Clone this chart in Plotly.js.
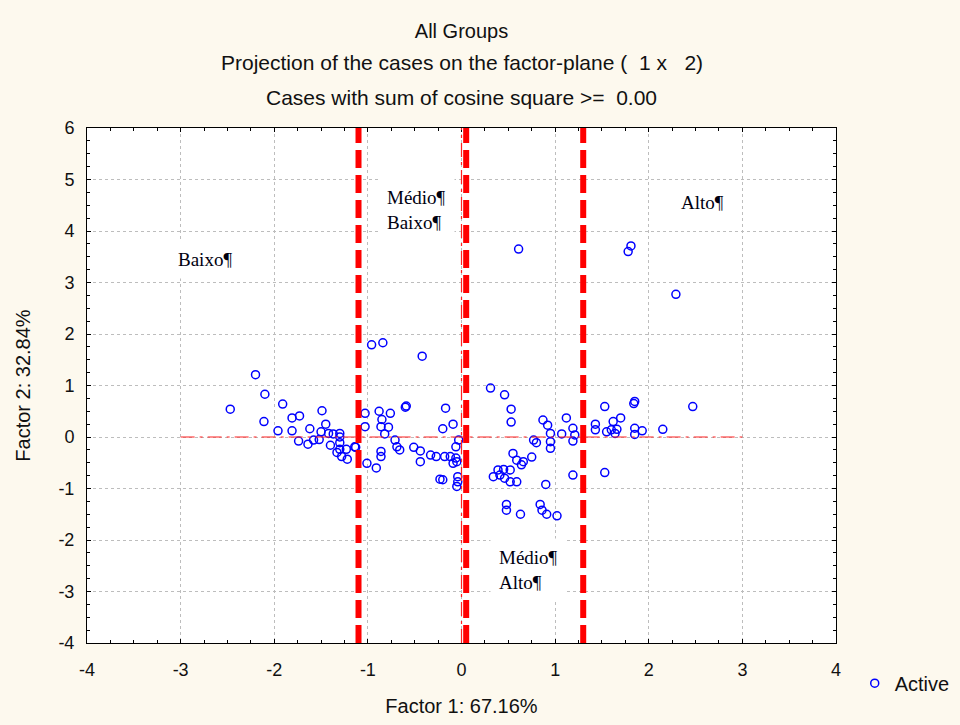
<!DOCTYPE html>
<html>
<head>
<meta charset="utf-8">
<script src="https://cdn.plot.ly/plotly-3.0.1.min.js"></script>
<style>
html,body{margin:0;padding:0;background:#fdf9ee;}
#chart{width:960px;height:725px;}
</style>
</head>
<body>
<div id="chart"></div>
<script>
// Factor coordinates of the cases (Factor 1 = x, Factor 2 = y)
const factor1 = [
  -2.20,-2.10,-2.47,-1.91,-2.11,-1.81,-1.73,-1.96,-1.81,-1.49,-1.62,-1.45,-1.50,-1.42,-1.30,-1.37,-1.74,-1.64,-1.58,-1.52,-1.40,-1.30,-1.30,-1.30,-1.33,-1.23,-1.28,-1.22,-1.13,
  -0.96,-0.84,-0.42,-1.03,-0.88,-0.76,-1.03,-0.85,-0.86,-0.78,-0.82,-0.60,-0.59,-0.17,-0.09,-0.20,-0.71,-0.69,-0.66,-1.14,-0.86,-0.86,-1.01,-0.91,-0.51,-0.44,-0.44,-0.33,-0.27,-0.18,-0.12,-0.06,-0.06,-0.03,-0.09,-0.05,-0.23,-0.20,-0.04,-0.05,-0.04,
  0.31,0.46,0.53,0.53,0.87,0.92,0.95,1.12,1.07,1.19,1.21,1.19,0.77,0.80,0.95,0.95,0.55,0.75,0.59,0.64,0.66,0.39,0.45,0.52,0.34,0.41,0.46,0.52,0.59,0.90,1.19,0.48,0.48,0.63,0.84,0.86,0.91,1.02,
  1.53,1.84,1.85,2.47,1.70,1.62,1.43,1.43,1.55,1.60,1.66,1.64,1.85,1.85,1.93,2.15,1.53,
  0.61,1.81,1.78,2.29
];
const factor2 = [
  1.21,0.83,0.54,0.64,0.30,0.37,0.41,0.12,0.12,0.51,0.16,0.25,0.10,0.07,0.07,0.06,-0.08,-0.14,-0.06,-0.05,-0.16,0.00,-0.11,-0.24,-0.30,-0.24,-0.38,-0.43,-0.20,
  1.79,1.83,1.57,0.46,0.50,0.46,0.20,0.34,0.20,0.19,0.06,0.58,0.60,0.56,0.25,0.16,-0.06,-0.19,-0.25,-0.19,-0.28,-0.38,-0.51,-0.60,-0.20,-0.27,-0.48,-0.35,-0.38,-0.38,-0.38,-0.41,-0.19,-0.06,-0.51,-0.48,-0.82,-0.83,-0.77,-0.96,-0.87,
  0.95,0.82,0.54,0.29,0.33,0.23,0.07,0.37,0.06,0.17,0.04,-0.08,-0.06,-0.11,-0.09,-0.22,-0.32,-0.39,-0.45,-0.54,-0.48,-0.64,-0.63,-0.64,-0.77,-0.74,-0.80,-0.87,-0.87,-0.92,-0.74,-1.31,-1.42,-1.50,-1.31,-1.42,-1.50,-1.53,
  0.59,0.65,0.69,0.59,0.37,0.30,0.25,0.14,0.10,0.14,0.15,0.07,0.17,0.05,0.12,0.15,-0.69,
  3.65,3.71,3.60,2.77
];
const seriesName = "Active";

// Tick labels (plain hyphen minus as in the original)
const xTickVals = [-4, -3, -2, -1, 0, 1, 2, 3, 4];
const xTickText = ["-4", "-3", "-2", "-1", "0", "1", "2", "3", "4"];
const yTickVals = [-4, -3, -2, -1, 0, 1, 2, 3, 4, 5, 6];
const yTickText = ["-4", "-3", "-2", "-1", "0", "1", "2", "3", "4", "5", "6"];

// Group boundaries (thick dashed) on Factor 1
const cutX = [-1.1, 0.05, 1.3];
// Reference axes (thin red lines)
const refHX = [-3, 3];   // horizontal line at Factor 2 = 0
const refVY = [-4, 6];   // vertical line at Factor 1 = 0

// Group labels
const labelText = ["Baixo¶", "Médio¶<br>Baixo¶", "Médio¶<br>Alto¶", "Alto¶"];
const labelX = [-2.74, -0.48, 0.72, 2.57];
const labelY = [3.44, 4.41, -2.58, 4.56];

const titleLines = ["All Groups", "Projection of the cases on the factor-plane (  1 x   2)", "Cases with sum of cosine square >=  0.00"];

const font = "Liberation Sans, Arial, sans-serif";
const txt = "#111";

const trace = {
  x: factor1, y: factor2, type: "scatter", mode: "markers", name: seriesName,
  marker: {symbol: "circle-open", size: 8, color: "#0000ff", line: {width: 1.5, color: "#0000ff"}},
  showlegend: true
};

const shapes = [];
cutX.forEach(v => shapes.push({
  type: "line", xref: "x", yref: "y", x0: v, x1: v, y0: -4, y1: 6, layer: "above",
  line: {color: "#ff0000", width: 6, dash: "18px,7px"}
}));
shapes.push({type: "line", xref: "x", yref: "y", x0: refHX[0], x1: refHX[1], y0: 0, y1: 0, layer: "above",
  line: {color: "#ff2020", width: 1.2, dash: "14px,5px,3px,5px"}});
shapes.push({type: "line", xref: "x", yref: "y", x0: 0, x1: 0, y0: refVY[0], y1: refVY[1], layer: "above",
  line: {color: "#ff2020", width: 1.2, dash: "14px,5px,3px,5px"}});

const annotations = labelText.map((t, i) => ({
  x: labelX[i], y: labelY[i], xref: "x", yref: "y", text: t, showarrow: false,
  align: "left", bgcolor: "#ffffff", borderpad: 8,
  font: {family: "Liberation Serif, Times New Roman, serif", size: 19, color: "#000010"}
}));
annotations.push({xref: "paper", yref: "paper", x: 0.5, y: 1, yshift: 66, text: titleLines[1], showarrow: false,
  font: {family: font, size: 21, color: txt}, xanchor: "center", yanchor: "middle"});
annotations.push({xref: "paper", yref: "paper", x: 0.5, y: 1, yshift: 31, text: titleLines[2], showarrow: false,
  font: {family: font, size: 21, color: txt}, xanchor: "center", yanchor: "middle"});

const axisCommon = {
  showline: true, linecolor: "#000", linewidth: 1, mirror: "ticks",
  ticks: "inside", ticklen: 4, tickcolor: "#000", tickmode: "array",
  minor: {dtick: 0.25, ticks: "inside", ticklen: 3, tickcolor: "#000", showgrid: false},
  showgrid: true, gridcolor: "#bdbdbd", griddash: "dot", gridwidth: 1,
  zeroline: false, tickfont: {family: font, size: 18, color: txt}
};

const layout = {
  width: 960, height: 725,
  paper_bgcolor: "#fdf9ee", plot_bgcolor: "#ffffff",
  margin: {l: 87, r: 124, t: 128, b: 82, autoexpand: false},
  title: {text: titleLines[0], x: 0.5, xref: "paper", xanchor: "center", y: 1, yref: "container", yanchor: "top", pad: {t: 24},
    font: {family: font, size: 20, color: txt}},
  xaxis: Object.assign({}, axisCommon, {range: [-4, 4], tickvals: xTickVals, ticktext: xTickText, ticklabelstandoff: 10,
    title: {text: "Factor 1: 67.16%", standoff: 20, font: {family: font, size: 20, color: txt}}}),
  yaxis: Object.assign({}, axisCommon, {range: [-4, 6], tickvals: yTickVals, ticktext: yTickText, ticklabelstandoff: 8,
    title: {text: "Factor 2: 32.84%", standoff: 22, font: {family: font, size: 20, color: txt}}}),
  shapes: shapes, annotations: annotations,
  showlegend: true,
  legend: {x: 1.025, y: -0.078, xanchor: "left", yanchor: "middle", bgcolor: "rgba(0,0,0,0)",
    font: {family: font, size: 20, color: txt}}
};

Plotly.newPlot("chart", [trace], layout, {displayModeBar: false, staticPlot: true});
</script>
</body>
</html>
